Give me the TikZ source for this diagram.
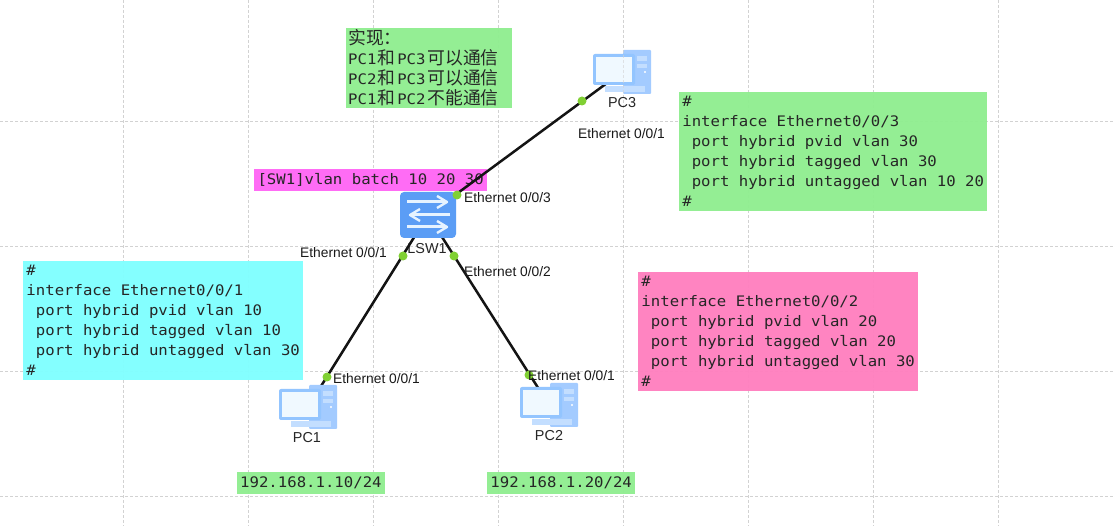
\documentclass[tikz,border=0pt]{standalone}
\usepackage{fontspec}
\setmainfont{Liberation Sans}
\newfontfamily\cfgmono[FakeStretch=1.08]{DejaVu Sans Mono}
\newfontfamily\cjk{Noto Sans CJK SC}
\newcommand{\zh}[1]{{\cjk\fontsize{17.8}{20}\selectfont #1}}
\definecolor{gridc}{HTML}{D2D2D2}
\definecolor{boxgreen}{HTML}{90EE90}
\definecolor{boxcyan}{HTML}{80FFFF}
\definecolor{boxpink}{HTML}{FF7FBF}
\definecolor{boxmag}{HTML}{FF66F5}
\definecolor{dotgreen}{HTML}{80D033}
\definecolor{swblue}{HTML}{5B9DF5}
\definecolor{swarrow}{HTML}{E6F3FF}
\definecolor{pcframe}{HTML}{93C5FF}
\definecolor{pcscreen}{HTML}{F0F9FF}
\definecolor{pctower}{HTML}{A3CBFF}
\definecolor{pcdetail}{HTML}{C3DEFF}
\tikzset{
  gridline/.style={gridc,dashed,line width=0.7pt,dash pattern=on 3pt off 2pt},
  cfgbox/.style={anchor=north west,inner xsep=3pt,inner ysep=0pt,align=left,text=black!85,
    font=\fontsize{14.5}{20}\cfgmono,fill opacity=0.96,text opacity=1},
  devbox/.style={minimum width=58pt,minimum height=44pt,inner sep=0pt,draw=none,fill=none},
  swbox/.style={minimum width=56pt,minimum height=46pt,inner sep=0pt,draw=none,fill=none},
  link/.style={line width=2.5pt,black!92},
  portdot/.style={circle,fill=dotgreen,minimum size=9pt,inner sep=0pt},
  portlabel/.style={font=\fontsize{13.8}{16}\selectfont,text=black!90,inner sep=0pt,anchor=west},
  devlabel/.style={font=\fontsize{14.4}{16}\selectfont,text=black!85,inner sep=0pt},
  pcicon/.pic={
    \fill[pctower,rounded corners=1pt] (30,0) rectangle (58,44);
    \fill[pcdetail] (44,6) rectangle (54,11);
    \fill[pcdetail] (44,14) rectangle (54,18);
    \fill[white] (52,22) circle (1.2pt);
    \fill[pcdetail] (12,36) rectangle (52,42);
    \fill[pcframe,rounded corners=2pt] (0,4) rectangle (42,35);
    \fill[pcscreen] (3,7) rectangle (39,32);
  },
  swicon/.pic={
    \fill[swblue,rounded corners=4pt] (0,0) rectangle (56,46);
    \draw[swarrow,line width=3pt] (7,10) -- (46,10);
    \draw[swarrow,line width=2.4pt,line join=round] (37,4) -- (47,10) -- (37,16);
    \draw[swarrow,line width=3pt] (50,23) -- (12,23);
    \draw[swarrow,line width=2.4pt,line join=round] (20,17) -- (10,23) -- (20,29);
    \draw[swarrow,line width=3pt] (7,35) -- (46,35);
    \draw[swarrow,line width=2.4pt,line join=round] (37,29) -- (47,35) -- (37,41);
  }
}
\begin{document}
\begin{tikzpicture}[x=1pt,y=-1pt]
\useasboundingbox (0,0) rectangle (1114,526);
\fill[white] (0,0) rectangle (1114,526);
% grid
\foreach \gx in {123,248,373,498,623,748,873,998}{\draw[gridline] (\gx,0) -- (\gx,526);}
\foreach \gy in {121,246,371,496}{\draw[gridline] (0,\gy) -- (1114,\gy);}
% text boxes
\node[cfgbox,fill=boxgreen,inner xsep=2pt,text width=162pt,minimum height=80pt] (goal) at (346,28)
 {\zh{实现：}\\
  PC1\hspace{1.5pt}\zh{和}\hspace{1.5pt}PC3\hspace{2pt}\zh{可以通信}\\
  PC2\hspace{1.5pt}\zh{和}\hspace{1.5pt}PC3\hspace{2pt}\zh{可以通信}\\
  PC1\hspace{1.5pt}\zh{和}\hspace{1.5pt}PC2\hspace{2pt}\zh{不能通信}};
\node[cfgbox,fill=boxgreen,minimum width=308pt,minimum height=119pt] (cfg3) at (679,92)
 {\#\\interface Ethernet0/0/3\\\ port hybrid pvid vlan 30\\\ port hybrid tagged vlan 30\\\ port hybrid untagged vlan 10 20\\\#};
\node[cfgbox,fill=boxcyan,minimum width=280pt,minimum height=119pt] (cfg1) at (23,261)
 {\#\\interface Ethernet0/0/1\\\ port hybrid pvid vlan 10\\\ port hybrid tagged vlan 10\\\ port hybrid untagged vlan 30\\\#};
\node[cfgbox,fill=boxpink,minimum width=280pt,minimum height=119pt] (cfg2) at (638,272)
 {\#\\interface Ethernet0/0/2\\\ port hybrid pvid vlan 20\\\ port hybrid tagged vlan 20\\\ port hybrid untagged vlan 30\\\#};
\node[cfgbox,fill=boxmag,minimum width=233pt,minimum height=22pt] (batch) at (254,169)
 {[SW1]vlan batch 10 20 30};
\node[cfgbox,fill=boxgreen,minimum width=147pt,minimum height=22pt] (ip1) at (237,472) {192.168.1.10/24};
\node[cfgbox,fill=boxgreen,minimum width=148pt,minimum height=22pt] (ip2) at (487,472) {192.168.1.20/24};
% devices (anchors for the links)
\node[swbox] (sw) at (428,215) {};
\node[devbox] (pc1) at (308,407) {};
\node[devbox] (pc2) at (549,405) {};
\node[devbox] (pc3) at (622,72) {};
% device labels
\node[devlabel] (swname) at (427,249) {LSW1};
\node[devlabel] (pc1name) at (307,438) {PC1};
\node[devlabel] (pc2name) at (549,436) {PC2};
\node[devlabel] (pc3name) at (622,103) {PC3};
% links
\draw[link] (sw.center) -- (pc1.center);
\draw[link] (sw.center) -- (pc2.center);
\draw[link] (sw.center) -- (pc3.center);
% icons
\pic at (400,192) {swicon};
\pic at (279,385) {pcicon};
\pic at (520,383) {pcicon};
\pic at (593,50) {pcicon};
\draw[gridline,opacity=0.6] (623,50) -- (623,94);
% port dots
\node[portdot] (d1) at (403,256) {};
\node[portdot] (d2) at (454,256) {};
\node[portdot] (d3) at (457,195) {};
\node[portdot] (d4) at (327,377) {};
\node[portdot] (d5) at (529,375) {};
\node[portdot] (d6) at (582,101) {};
% port labels
\node[portlabel] (p1) at (300,252.5) {Ethernet 0/0/1};
\node[portlabel] (p2) at (464,271.5) {Ethernet 0/0/2};
\node[portlabel] (p3) at (464,197.5) {Ethernet 0/0/3};
\node[portlabel] (p4) at (333,379) {Ethernet 0/0/1};
\node[portlabel] (p5) at (528,376) {Ethernet 0/0/1};
\node[portlabel] (p6) at (578,134) {Ethernet 0/0/1};
\end{tikzpicture}
\end{document}
